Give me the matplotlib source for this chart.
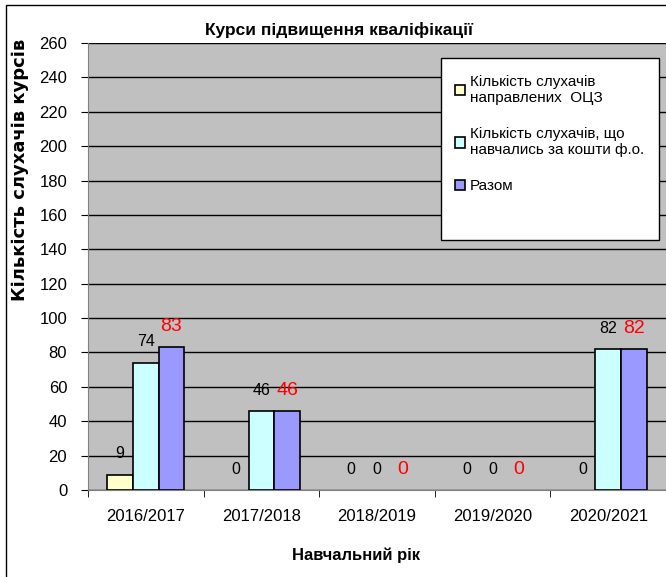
import matplotlib
matplotlib.use("Agg")
import matplotlib.pyplot as plt
import numpy as np
from matplotlib.patches import Rectangle

plt.rcParams['font.family'] = ['Liberation Sans', 'DejaVu Sans']

years = ["2016/2017", "2017/2018", "2018/2019", "2019/2020", "2020/2021"]
ocz = [9, 0, 0, 0, 0]
self_paid = [74, 46, 0, 0, 82]
total = [83, 46, 0, 0, 82]

labels = ["Кількість слухачів\nнаправлених  ОЦЗ",
          "Кількість слухачів, що\nнавчались за кошти ф.о.",
          "Разом"]
colors = ["#FFFFCC", "#CCFFFF", "#9999FF"]

fig = plt.figure(figsize=(6.66, 5.77), dpi=100)
ax = fig.add_axes([88/666, 1-490/577, 578/666, (490-43)/577])
ax.set_facecolor("#C0C0C0")

x = np.arange(len(years))
w = 1/4.5
series = [ocz, self_paid, total]
for i, (vals, col, lab) in enumerate(zip(series, colors, labels)):
    pos = x + (i-1)*w
    bars = ax.bar(pos, vals, w, color=col, edgecolor="black", linewidth=1.2,
                  label=lab, zorder=3)
    for b, v in zip(bars, vals):
        if v == 0:
            b.set_visible(False)
    for px, v in zip(pos, vals):
        if i == 2:
            ax.annotate(str(v), (px, v), xytext=(0, 15), textcoords="offset points",
                        ha="center", va="center", color="red", fontsize=14)
        else:
            ax.annotate(str(v), (px, v), xytext=(0, 15), textcoords="offset points",
                        ha="center", va="center", color="black", fontsize=11.5)

ax.set_ylim(0, 260)
ax.set_yticks(np.arange(0, 261, 20))
ax.set_xlim(-0.5, len(years)-0.5)
ax.set_xticks(x)
ax.set_xticklabels(years, fontsize=12)
ax.set_xticks(np.arange(-0.5, len(years)), minor=True)
ax.tick_params(axis="x", which="major", length=0, pad=14)
ax.tick_params(axis="x", which="minor", length=5, direction="out")
ax.tick_params(axis="y", labelsize=12, length=5, pad=10)
ax.yaxis.grid(True, color="black", linewidth=1, zorder=0)
ax.set_axisbelow(True)
for s in ["top", "right"]:
    ax.spines[s].set_visible(False)
ax.spines["left"].set_color("#808080")
ax.spines["bottom"].set_color("#808080")

fig.text(356/666, 1-555/577, "Навчальний рік", ha="center", va="center",
         fontsize=12, fontweight="bold")
fig.text(20/666, 1-170/577, "Кількість слухачів курсів", rotation=90,
         ha="center", va="center", fontsize=13, fontweight="bold",
         family=['DejaVu Sans'])
fig.text(339/666, 1-30/577, "Курси підвищення кваліфікації", ha="center",
         va="center", fontsize=12.5, fontweight="bold")

# legend box
ax.add_patch(Rectangle((441/666, 1-240/577), 218/666, 182/577,
                       transform=fig.transFigure, facecolor="white",
                       edgecolor="black", linewidth=1, zorder=4))
leg = ax.legend(loc="upper left", bbox_to_anchor=(444/666, 1-64/577),
                bbox_transform=fig.transFigure, fontsize=11, frameon=False,
                handlelength=0.7, handleheight=0.7, handletextpad=0.3,
                labelspacing=1.45, borderpad=0.2)
leg.set_zorder(5)

fig.patches.append(Rectangle((6/666, -0.1), 1.2, 1-5/577+0.1, transform=fig.transFigure,
                             fill=False, edgecolor="black", linewidth=1))

fig.savefig("out.png", dpi=100)
